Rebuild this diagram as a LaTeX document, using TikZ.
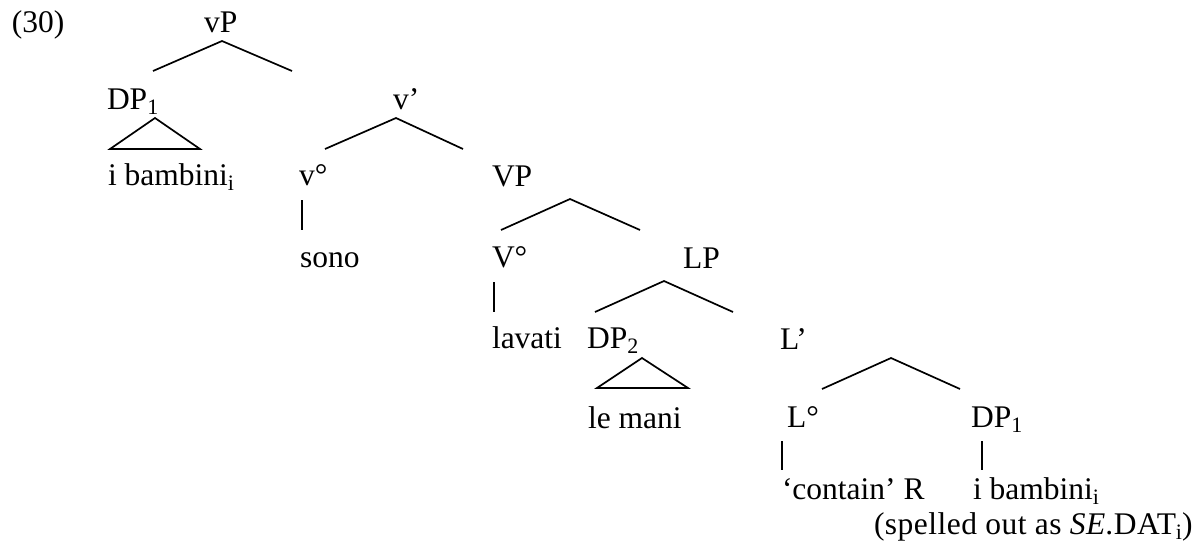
\documentclass[tikz,border=0pt]{standalone}
\usepackage{fontspec}
\setmainfont{Liberation Serif}
\newcommand\treefont{\fontsize{31.5pt}{37pt}\selectfont}
% lowered index, as in DP_1 or bambini_i
\newcommand\lowidx[1]{\raisebox{-0.17em}{\fontsize{22pt}{23pt}\selectfont #1}}
\tikzset{
  lbl/.style={anchor=base west, inner sep=0pt, outer sep=0pt, font=\treefont},
  branch/.style={draw=black, line width=1.7pt},
  stem/.style={draw=black, line width=1.7pt},
}
\begin{document}
\begin{tikzpicture}[x=1pt, y=-1pt]
\useasboundingbox (0,0) rectangle (1199,544);

% example number
\node[lbl] (ex) at (12,32) {(30)};

% vP
\node[lbl] (vP) at (204,32) {vP};
\coordinate (vPa) at (222,41);
\coordinate (vPl) at (153,71);
\coordinate (vPr) at (292,71);
\draw[branch] (vPl) -- (vPa) -- (vPr);

% DP1 with triangle
\node[lbl] (DPa) at (107,109) {DP\lowidx{1}};
\coordinate (DPat) at (155,118);
\coordinate (DPal) at (110,149);
\coordinate (DPar) at (200,149);
\draw[branch] (DPat) -- (DPal) -- (DPar) -- cycle;
\node[lbl] (bamA) at (108,185) {i bambini\lowidx{i}};

% v'
\node[lbl] (vbar) at (393,109) {v’};
\coordinate (vba) at (396,118);
\coordinate (vbl) at (325,149);
\coordinate (vbr) at (463,149);
\draw[branch] (vbl) -- (vba) -- (vbr);

% v head
\node[lbl] (vhead) at (299,185) {v°};
\coordinate (vs1) at (302,200);
\coordinate (vs2) at (302,230);
\draw[stem] (vs1) -- (vs2);
\node[lbl] (sono) at (300,267) {sono};

% VP
\node[lbl] (VP) at (492,186) {VP};
\coordinate (VPa) at (570,199);
\coordinate (VPl) at (501,230);
\coordinate (VPr) at (640,230);
\draw[branch] (VPl) -- (VPa) -- (VPr);

% V head
\node[lbl] (Vhead) at (492,267) {V°};
\coordinate (Vs1) at (494,282);
\coordinate (Vs2) at (494,312);
\draw[stem] (Vs1) -- (Vs2);
\node[lbl] (lavati) at (492,348) {lavati};

% LP
\node[lbl] (LP) at (683,268) {LP};
\coordinate (LPa) at (664,281);
\coordinate (LPl) at (595,312);
\coordinate (LPr) at (733,312);
\draw[branch] (LPl) -- (LPa) -- (LPr);

% DP2 with triangle
\node[lbl] (DPb) at (587,348) {DP\lowidx{2}};
\coordinate (DPbt) at (642,358);
\coordinate (DPbl) at (597,388);
\coordinate (DPbr) at (688,388);
\draw[branch] (DPbt) -- (DPbl) -- (DPbr) -- cycle;
\node[lbl] (mani) at (588,428) {le mani};

% L'
\node[lbl] (Lbar) at (780,349) {L’};
\coordinate (Lba) at (891,358);
\coordinate (Lbl) at (822,389);
\coordinate (Lbr) at (960,389);
\draw[branch] (Lbl) -- (Lba) -- (Lbr);

% L head
\node[lbl] (Lhead) at (787,427) {L°};
\coordinate (Ls1) at (782,441);
\coordinate (Ls2) at (782,470);
\draw[stem] (Ls1) -- (Ls2);
\node[lbl] (contain) at (782,499) {‘contain’ R};

% DP1 complement
\node[lbl] (DPc) at (971,427) {DP\lowidx{1}};
\coordinate (Ds1) at (982,441);
\coordinate (Ds2) at (982,470);
\draw[stem] (Ds1) -- (Ds2);
\node[lbl] (bamB) at (973,499) {i bambini\lowidx{i}};
\node[lbl] (spell) at (874,534) {\addfontfeatures{LetterSpace=1.5}(spelled out as \textit{SE}.DAT\lowidx{i})};
\end{tikzpicture}
\end{document}
